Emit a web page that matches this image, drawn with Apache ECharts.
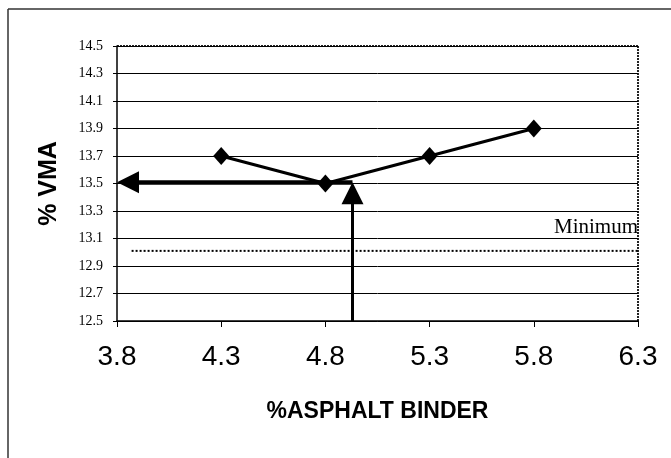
<!DOCTYPE html>
<html>
<head>
<meta charset="utf-8">
<script src="https://cdn.jsdelivr.net/npm/echarts@6/dist/echarts.min.js"></script>
<style>
html,body{margin:0;padding:0;background:#fff;}
#chart{width:671px;height:458px;}
</style>
</head>
<body>
<div id="chart"></div>
<script>
// Data
const binder = [4.3, 4.8, 5.3, 5.8];
const vma = [13.7, 13.5, 13.7, 13.9];
const optimumBinder = 4.93;
const optimumVMA = 13.51;
const minimumVMA = 13.01;
const minimumStart = 3.87;
const xTicks = [3.8, 4.3, 4.8, 5.3, 5.8, 6.3];
const yTicks = [12.5, 12.7, 12.9, 13.1, 13.3, 13.5, 13.7, 13.9, 14.1, 14.3, 14.5];

const chart = echarts.init(document.getElementById('chart'));
const grid = {left: 117, right: 33, top: 46, bottom: 137};
const plotW = 671 - grid.left - grid.right;
const plotH = 458 - grid.top - grid.bottom;
const xMin = xTicks[0], xMax = xTicks[xTicks.length - 1];
const yMin = yTicks[0], yMax = yTicks[yTicks.length - 1];
const arrowSize = 22;
// shift arrow end so the triangle's tip lands on the target value
const dxHalf = (arrowSize / 2) * (xMax - xMin) / plotW;
const dyHalf = (arrowSize / 2) * (yMax - yMin) / plotH;

chart.setOption({
  animation: false,
  backgroundColor: '#fff',
  grid: grid,
  xAxis: {
    type: 'value', min: xMin, max: xMax, interval: 0.5,
    axisLine: {show: true, onZero: false, lineStyle: {color: '#000', width: 1.5}},
    axisTick: {show: true, length: 6, lineStyle: {color: '#000'}},
    splitLine: {show: false},
    axisLabel: {
      margin: 22, color: '#000', fontFamily: 'Liberation Sans, Arial', fontSize: 28,
      formatter: v => v.toFixed(1)
    },
    name: '%ASPHALT BINDER', nameLocation: 'middle', nameGap: 79,
    nameTextStyle: {color: '#000', fontFamily: 'Liberation Sans Narrow, Liberation Sans', fontWeight: 'bold', fontSize: 23}
  },
  yAxis: {
    type: 'value', min: yMin, max: yMax, interval: 0.2,
    axisLine: {show: true, onZero: false, lineStyle: {color: '#000', width: 1.5}},
    axisTick: {show: true, length: 4, lineStyle: {color: '#000'}},
    splitLine: {show: true, lineStyle: {color: '#000', width: 1}},
    axisLabel: {
      margin: 14, color: '#000', fontFamily: 'Liberation Serif, Times New Roman', fontSize: 14,
      formatter: v => v.toFixed(1)
    },
    name: '% VMA', nameLocation: 'middle', nameGap: 55, nameRotate: 90,
    nameTextStyle: {color: '#000', fontFamily: 'Liberation Sans, Arial', fontWeight: 'bold', fontSize: 25}
  },
  graphic: [
    {type: 'line', shape: {x1: 8, y1: 9, x2: 671, y2: 9}, style: {stroke: '#333', lineWidth: 1.5}},
    {type: 'line', shape: {x1: 8, y1: 9, x2: 8, y2: 458}, style: {stroke: '#333', lineWidth: 1.5}},
    {type: 'line', shape: {x1: grid.left, y1: grid.top, x2: 671 - grid.right, y2: grid.top}, style: {stroke: '#222', lineWidth: 2, lineDash: [2, 1]}},
    {type: 'line', shape: {x1: 671 - grid.right, y1: grid.top, x2: 671 - grid.right, y2: 458 - grid.bottom}, style: {stroke: '#222', lineWidth: 2, lineDash: [2, 1]}}
  ],
  series: [
    {
      type: 'line',
      data: [[minimumStart, minimumVMA], {value: [xMax, minimumVMA], label: {
        show: true, position: 'top', align: 'right', offset: [0, -8], formatter: 'Minimum',
        color: '#000', fontFamily: 'Liberation Serif, Times New Roman', fontSize: 21
      }}],
      showSymbol: true, symbol: 'circle', symbolSize: 0.1,
      itemStyle: {color: 'rgba(0,0,0,0)'},
      lineStyle: {color: '#000', width: 2, type: [2, 2]},
      z: 2
    },
    {
      type: 'line',
      data: binder.map((x, i) => [x, vma[i]]),
      symbol: 'diamond', symbolSize: [16, 18],
      itemStyle: {color: '#000'},
      lineStyle: {color: '#000', width: 3},
      z: 3
    },
    {
      type: 'lines',
      coordinateSystem: 'cartesian2d',
      symbol: ['none', 'triangle'],
      symbolSize: arrowSize,
      lineStyle: {color: '#000', width: 4.5, opacity: 1},
      data: [
        {coords: [[optimumBinder, optimumVMA], [xMin + dxHalf, optimumVMA]]}
      ],
      z: 4
    },
    {
      type: 'lines',
      coordinateSystem: 'cartesian2d',
      symbol: ['none', 'triangle'],
      symbolSize: arrowSize,
      lineStyle: {color: '#000', width: 3, opacity: 1},
      data: [
        {coords: [[optimumBinder, yMin], [optimumBinder, optimumVMA - dyHalf]]}
      ],
      z: 4
    }
  ]
});
</script>
</body>
</html>
